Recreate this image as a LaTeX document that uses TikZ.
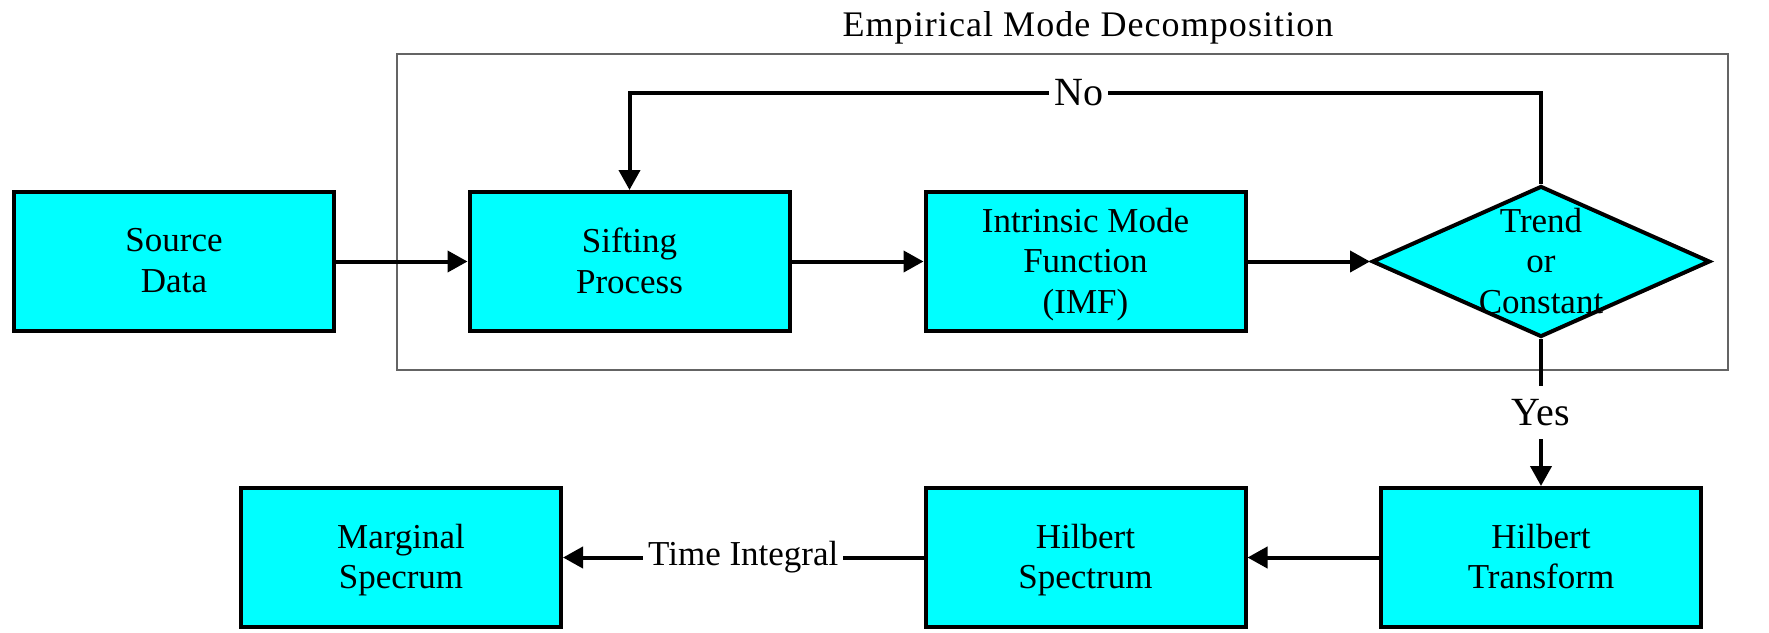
\documentclass[tikz,border=0pt]{standalone}
\usepackage{fontspec}
\setmainfont{Liberation Serif}
\newfontfamily\titlefont{Liberation Serif}[LetterSpace=3]
\usetikzlibrary{arrows.meta,shapes.geometric}
\definecolor{aqua}{RGB}{0,255,255}
\definecolor{framegray}{RGB}{100,100,100}
\begin{document}
\begin{tikzpicture}[x=1pt,y=-1pt,
  box/.style={draw=black, fill=aqua, line width=4pt, minimum width=320pt, minimum height=139pt,
    inner sep=0pt, align=center, font=\fontsize{35}{40.5}\selectfont, text depth=2pt},
  decbox/.style={draw=black, fill=aqua, line width=4pt, diamond, minimum width=338pt,
    minimum height=151pt, inner sep=0pt},
  txt/.style={align=center, inner sep=0pt, font=\fontsize{35}{40.5}\selectfont, text depth=2pt},
  arr/.style={line width=4pt, -{Triangle[length=20pt,width=21pt]}},
  lbl/.style={fill=white, inner sep=4pt, font=\fontsize{40}{46}\selectfont},
  lbls/.style={fill=white, inner xsep=5pt, inner ysep=3pt, font=\fontsize{35}{41}\selectfont},
  frame/.style={draw=framegray, line width=1.5pt, minimum width=1331pt, minimum height=316pt, inner sep=0pt}]
\path[use as bounding box, fill=white] (0,0) rectangle (1769,632);

% frame and title
\node[frame] (emd) at (1062.5,212) {};
\node[font=\titlefont\fontsize{36}{42}\selectfont, inner sep=0pt, anchor=base] (title) at (1088,36) {Empirical Mode Decomposition};

% boxes
\node[box] (src) at (174,261.5) {Source\\Data};
\node[box] (sift) at (629.5,261.5) {Sifting\\Process};
\node[box] (imf) at (1085.5,261.5) {Intrinsic Mode\\Function\\(IMF)};
\node[decbox] (dec) at (1541,261.5) {};
\node[txt] (dectxt) at (1541,261.5) {Trend\\or\\Constant};
\node[box] (ht) at (1541,557.5) {Hilbert\\Transform};
\node[box] (hs) at (1085.5,557.5) {Hilbert\\Spectrum};
\node[box] (ms) at (401,557.5) {Marginal\\Specrum};

% feedback corners
\coordinate (fbR) at (1541,93);
\coordinate (fbL) at (629.5,93);

% connectors
\draw[arr] (src.east) -- (sift.west |- src.east);
\draw[arr] (sift.east) -- (imf.west |- sift.east);
\draw[arr] (imf.east) -- (dec.west);
\draw[arr] (dec.north) -- (fbR) -- node[lbl, pos=0.507, inner xsep=5pt, inner ysep=2pt] (no) {No} (fbL) -- (sift.north);
\draw[arr] (dec.south) -- node[lbl, pos=0.5, inner xsep=3pt, inner ysep=13pt] (yes) {Yes} (ht.north);
\draw[arr] (ht.west) -- (hs.east |- ht.west);
\draw[arr] (hs.west) -- node[lbls] (ti) {Time Integral} (ms.east |- hs.west);
\end{tikzpicture}
\end{document}
